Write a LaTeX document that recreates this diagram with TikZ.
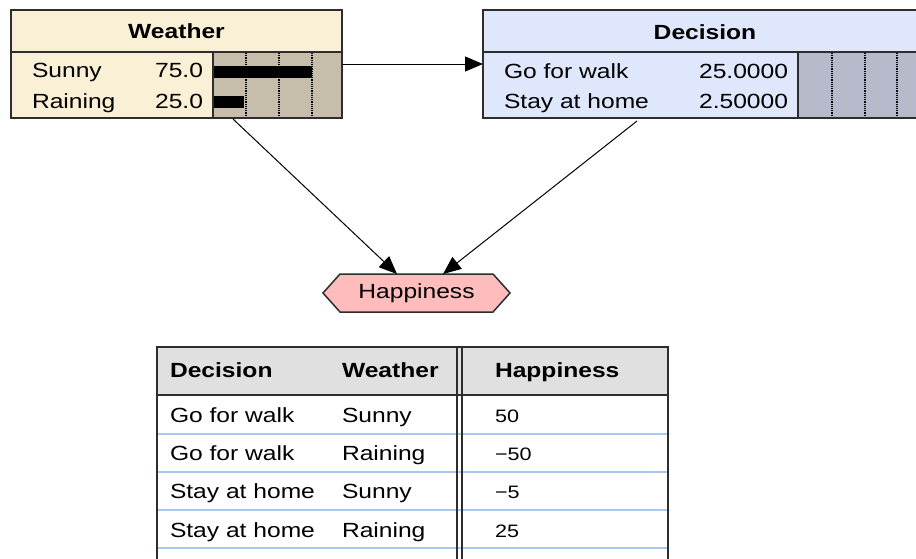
\documentclass[tikz,border=0pt]{standalone}
\usepackage{fontspec}
\setmainfont{Liberation Sans}[FakeStretch=1.2]
\usetikzlibrary{arrows.meta,calc,backgrounds}
\definecolor{wcream}{RGB}{250,240,214}
\definecolor{wbar}{RGB}{198,190,170}
\definecolor{dblue}{RGB}{222,231,251}
\definecolor{dbar}{RGB}{182,186,202}
\definecolor{hpink}{RGB}{255,188,188}
\definecolor{thead}{RGB}{224,224,224}
\definecolor{tline}{RGB}{168,200,238}
\definecolor{bord}{RGB}{45,45,45}
\newcommand\rowf{\fontsize{20.5pt}{24pt}\selectfont}
\newcommand\ttlf{\fontsize{20.5pt}{24pt}\selectfont\bfseries}
\newcommand\numf{\fontsize{18pt}{22pt}\selectfont}
\begin{document}
\begin{tikzpicture}[x=1pt,y=-1pt,
  boxfill/.style={inner sep=0pt,outer sep=0pt,anchor=north west},
  border/.style={draw=bord,line width=1.5pt},
  txt/.style={inner sep=0pt,outer sep=0pt,font=\rowf},
  ttl/.style={inner sep=0pt,outer sep=0pt,font=\ttlf},
  num/.style={inner sep=0pt,outer sep=0pt,font=\numf},
  arr/.style={line width=1pt,-{Triangle[length=18pt,width=15pt]}},
  dots/.style={line width=1.1pt,dash pattern=on 1.1pt off 1.1pt},
  hexa/.style={draw=bord,line width=1.5pt,fill=hpink},
]
\clip (0,0) rectangle (916,558);
\begin{scope}[on background layer]
  \fill[white] (0,0) rectangle (916,558);
\end{scope}

% ---------- Weather ----------
\node[boxfill,fill=wcream,minimum width=331pt,minimum height=108pt] (weather) at (11,10) {};
\fill[wbar] (213,52) rectangle (342,118);
\fill[black] (213,66) rectangle (312,78);
\fill[black] (213,96) rectangle (244,108);
\foreach \x in {246,279,312} \draw[dots] (\x,53) -- (\x,118);
\draw[border] (11,52) -- (342,52) (213,52) -- (213,118);
\draw[border] (weather.north west) rectangle (weather.south east);
\node[ttl,anchor=base] (wtitle) at (176.5,38) {Weather};
\node[txt,anchor=base west] (wsun) at (32,77) {Sunny};
\node[txt,anchor=base east] (wsunv) at (203,77) {75.0};
\node[txt,anchor=base west] (wrain) at (32,108) {Raining};
\node[txt,anchor=base east] (wrainv) at (203,108) {25.0};

% ---------- Decision ----------
\node[boxfill,fill=dblue,minimum width=444pt,minimum height=108pt] (decision) at (483,10) {};
\fill[dbar] (798,52) rectangle (927,118);
\foreach \x in {832,865,897} \draw[dots] (\x,53) -- (\x,118);
\draw[border] (483,52) -- (927,52) (798,52) -- (798,118);
\draw[border] (decision.north west) rectangle (decision.south east);
\node[ttl,anchor=base] (dtitle) at (705,39) {Decision};
\node[txt,anchor=base west] (dwalk) at (504,78) {Go for walk};
\node[txt,anchor=base east] (dwalkv) at (788,78) {25.0000};
\node[txt,anchor=base west] (dhome) at (504,108) {Stay at home};
\node[txt,anchor=base east] (dhomev) at (788,108) {2.50000};

% ---------- Happiness ----------
\node[txt,minimum width=153pt,minimum height=38pt] (happy) at (416.5,293) {Happiness};
\begin{scope}[on background layer]
  \draw[hexa] ($(happy.west)+(-17,0)$) -- (happy.north west) -- (happy.north east)
    -- ($(happy.east)+(17,0)$) -- (happy.south east) -- (happy.south west) -- cycle;
\end{scope}

% ---------- connectors ----------
\coordinate (wout) at (233,119);
\coordinate (dout) at (637,121);
\coordinate (hin1) at (397,274);
\coordinate (hin2) at (443,274);
\draw[arr] (weather.east) -- (decision.west);
\draw[arr] (wout) -- (hin1);
\draw[arr] (dout) -- (hin2);

% ---------- table ----------
\fill[thead] (157,347) rectangle (668,395);
\foreach \y in {434,472,510,548} \draw[tline,line width=1.5pt] (158,\y) -- (667,\y);
\draw[border] (157,565) -- (157,347) -- (668,347) -- (668,565);
\draw[border] (157,395) -- (668,395);
\draw[draw=bord,line width=1.3pt] (457,347) -- (457,565) (462,347) -- (462,565);

\node[ttl,anchor=base west] (hdec) at (170,377) {Decision};
\node[ttl,anchor=base west] (hwea) at (342,377) {Weather};
\node[ttl,anchor=base west] (hhap) at (495,377) {Happiness};

\node[txt,anchor=base west] (r1a) at (170,422) {Go for walk};
\node[txt,anchor=base west] (r1b) at (342,422) {Sunny};
\node[num,anchor=base west] (r1c) at (495,422) {50};
\node[txt,anchor=base west] (r2a) at (170,460) {Go for walk};
\node[txt,anchor=base west] (r2b) at (342,460) {Raining};
\node[num,anchor=base west] (r2c) at (495,460) {−50};
\node[txt,anchor=base west] (r3a) at (170,498) {Stay at home};
\node[txt,anchor=base west] (r3b) at (342,498) {Sunny};
\node[num,anchor=base west] (r3c) at (495,498) {−5};
\node[txt,anchor=base west] (r4a) at (170,537) {Stay at home};
\node[txt,anchor=base west] (r4b) at (342,537) {Raining};
\node[num,anchor=base west] (r4c) at (495,537) {25};
\end{tikzpicture}
\end{document}
